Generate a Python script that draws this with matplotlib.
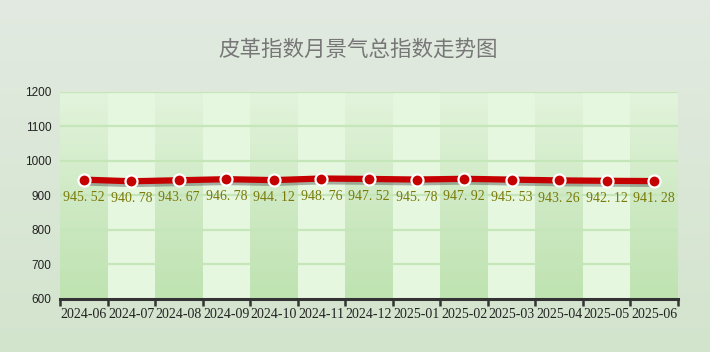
import numpy as np
import matplotlib
matplotlib.use("Agg")
import matplotlib.pyplot as plt
import matplotlib.patheffects as pe
from matplotlib.colors import LinearSegmentedColormap

plt.rcParams['font.family'] = ['Noto Sans CJK SC', 'DejaVu Sans']

months = ['2024-06', '2024-07', '2024-08', '2024-09', '2024-10', '2024-11', '2024-12',
          '2025-01', '2025-02', '2025-03', '2025-04', '2025-05', '2025-06']
values = [945.52, 940.78, 943.67, 946.78, 944.12, 948.76, 947.52,
          945.78, 947.92, 945.53, 943.26, 942.12, 941.28]
y_ticks = [600, 700, 800, 900, 1000, 1100, 1200]
title = '皮革指数月景气总指数走势图'

W, H = 710, 352
fig = plt.figure(figsize=(W / 100, H / 100), dpi=100)

# figure background gradient
bg = fig.add_axes([0, 0, 1, 1], zorder=-10)
bg_cmap = LinearSegmentedColormap.from_list('bg', ['#e2eae1', '#d3e4cd'])
bg.imshow(np.linspace(0, 1, 256).reshape(-1, 1), aspect='auto', cmap=bg_cmap,
          extent=[0, 1, 0, 1], origin='upper')
bg.axis('off')

x0, x1 = 60, 678
ytop, ybot = 92, 298.6
ax = fig.add_axes([x0 / W, 1 - ybot / H, (x1 - x0) / W, (ybot - ytop) / H])
ax.patch.set_alpha(0)

n = len(months)
xs = np.arange(n)
ax.set_xlim(-0.5, n - 0.5)
ax.set_ylim(600, 1200)

# alternating bands
dark_cmap = LinearSegmentedColormap.from_list('dk', ['#bfe3b1', '#cfeac5', '#e3f4dc'])
grad = np.linspace(0, 1, 256).reshape(-1, 1)
for i in range(n):
    if i % 2 == 0:
        ax.imshow(grad, aspect='auto', cmap=dark_cmap, origin='lower',
                  extent=[i - 0.5, i + 0.5, 600, 1200], zorder=0)
    else:
        ax.axvspan(i - 0.5, i + 0.5, color='#e6f7e0', lw=0, zorder=0)

for yv in y_ticks[1:]:
    ax.axhline(yv, color='#c4e6b9', lw=1.6, zorder=1)

ax.plot(xs, values, color='#c40000', lw=4.5, zorder=3, solid_capstyle='round',
        path_effects=[pe.SimpleLineShadow(offset=(0, -2), shadow_color='#444444', alpha=0.4),
                      pe.Normal()])
ax.scatter(xs, values, s=75, color='#c40000', edgecolors='white', linewidths=1.6, zorder=4)

for x, v in zip(xs, values):
    ax.annotate(f'{v:.2f}'.replace('.', '. '), (x, v), xytext=(0, -8), textcoords='offset points',
                ha='center', va='top', fontsize=10, color='#7a7a08',
                family=['Liberation Serif'], zorder=5)

for s in ['top', 'right', 'left']:
    ax.spines[s].set_visible(False)
ax.spines['bottom'].set_color('#333333')
ax.spines['bottom'].set_linewidth(2.2)

ax.set_xticks(np.arange(n + 1) - 0.5)
ax.set_xticklabels([])
ax.set_xticks(xs, minor=True)
ax.set_xticklabels(months, minor=True, family=['Liberation Serif'], fontsize=10, color='#222222')
ax.tick_params(axis='x', which='major', length=5, width=1.8, color='#333333')
ax.tick_params(axis='x', which='minor', length=0, pad=7)

ax.set_yticks(y_ticks)
ax.set_yticklabels([str(v) for v in y_ticks], fontsize=8.5, color='#222222',
                   family=['Liberation Sans'])
ax.tick_params(axis='y', length=0, pad=6)

fig.text(358 / W, 1 - 50 / H, title, ha='center', va='center', fontsize=15.5,
         color='#777777', fontweight='light')

fig.savefig('out.png', dpi=100)
